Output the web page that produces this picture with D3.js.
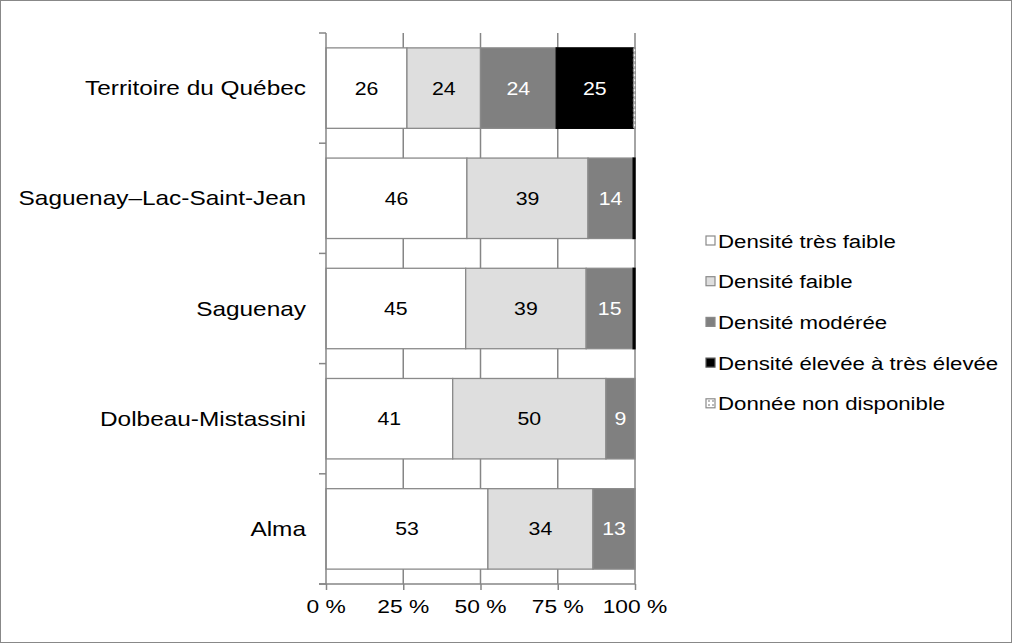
<!DOCTYPE html>
<html>
<head>
<meta charset="utf-8">
<script src="https://cdn.jsdelivr.net/npm/d3@7"></script>
<style>
  body { margin: 0; background: #fff; }
  svg text { font-family: "Liberation Sans", Arial, sans-serif; }
</style>
</head>
<body>
<svg id="chart" width="1012" height="643"></svg>
<script>
// données (%)
const categories = ["Territoire du Québec", "Saguenay–Lac-Saint-Jean", "Saguenay", "Dolbeau-Mistassini", "Alma"];
const seriesNames = ["Densité très faible", "Densité faible", "Densité modérée", "Densité élevée à très élevée", "Donnée non disponible"];
const tresFaible = [26.2, 45.6, 45.2, 41.0, 52.4];
const faible     = [23.8, 39.2, 39.0, 49.6, 34.0];
const moderee    = [24.5, 14.6, 15.2, 9.4, 13.6];
const elevee     = [25.0, 0.6, 0.6, 0, 0];
const nonDispo   = [0.5, 0, 0, 0, 0];
const labels = [
  ["26", "24", "24", "25", ""],
  ["46", "39", "14", "", ""],
  ["45", "39", "15", "", ""],
  ["41", "50", "9", "", ""],
  ["53", "34", "13", "", ""]
];
const xTicks = [0, 25, 50, 75, 100];

const series = [tresFaible, faible, moderee, elevee, nonDispo];
const fills = ["#ffffff", "#dedede", "#808080", "#000000", "url(#hatch)"];
const textCol = ["#000", "#000", "#fff", "#fff", "#000"];

const svg = d3.select("#chart");
const defs = svg.append("defs");
const pat = defs.append("pattern").attr("id", "hatch").attr("patternUnits", "userSpaceOnUse")
  .attr("width", 4).attr("height", 4);
pat.append("rect").attr("width", 4).attr("height", 4).attr("fill", "#fff");
pat.append("rect").attr("width", 2).attr("height", 2).attr("fill", "#bbb");

// texte un peu étiré en largeur, comme dans l'original
function label(g, tx, ty, str, size, sx, anchor, col) {
  return g.append("text")
    .attr("transform", `translate(${tx},${ty}) scale(${sx},1)`)
    .attr("dy", "0.35em").attr("text-anchor", anchor)
    .attr("font-size", size).attr("fill", col)
    .text(str);
}

// cadre extérieur
svg.append("rect").attr("x", 0.5).attr("y", 0.5).attr("width", 1011).attr("height", 642)
  .attr("fill", "none").attr("stroke", "#888");

const x = d3.scaleLinear().domain([0, 100]).range([326, 635]);
const y = d3.scaleBand().domain(categories).range([33, 584]).paddingInner(0.27).paddingOuter(0.135);
const band = d3.scaleBand().domain(categories).range([33, 584]);

// grille verticale
svg.append("g").selectAll("line").data(xTicks.slice(1)).join("line")
  .attr("x1", d => x(d)).attr("x2", d => x(d))
  .attr("y1", 33).attr("y2", 584)
  .attr("stroke", "#868686").attr("stroke-width", 1.5);

// barres empilées
categories.forEach((c, i) => {
  let acc = 0;
  series.forEach((s, j) => {
    const v = s[i];
    if (v <= 0) return;
    const x0 = x(acc), x1 = x(acc + v);
    svg.append("rect")
      .attr("x", x0).attr("y", y(c))
      .attr("width", x1 - x0).attr("height", y.bandwidth())
      .attr("fill", fills[j])
      .attr("stroke", j === 3 ? "#000" : "#8a8a8a")
      .attr("stroke-width", 1.3)
      .attr("stroke-dasharray", j === 4 ? "3,2" : null);
    if (labels[i][j]) {
      label(svg, (x0 + x1) / 2, y(c) + y.bandwidth() / 2, labels[i][j], 18.5, 1.15, "middle", textCol[j]);
    }
    acc += v;
  });
});

// axe vertical (catégories)
const axisCol = "#868686";
svg.append("line").attr("x1", 326).attr("x2", 326).attr("y1", 33).attr("y2", 584)
  .attr("stroke", axisCol).attr("stroke-width", 1.5);
const bounds = categories.map(c => band(c)).concat([584]);
svg.append("g").selectAll("line").data(bounds).join("line")
  .attr("x1", 319).attr("x2", 326).attr("y1", d => d).attr("y2", d => d)
  .attr("stroke", axisCol).attr("stroke-width", 1.5);
const catG = svg.append("g");
categories.forEach(c => label(catG, 306, y(c) + y.bandwidth() / 2, c, 20, 1.22, "end", "#000"));

// axe horizontal
const xAxis = svg.append("g").attr("transform", "translate(0,584)")
  .call(d3.axisBottom(x).tickValues(xTicks).tickSize(6).tickFormat(""));
xAxis.select(".domain").attr("stroke", axisCol).attr("stroke-width", 1.5).attr("d", "M319,0H635");
xAxis.selectAll(".tick line").attr("stroke", axisCol).attr("stroke-width", 1.5);
const tickG = svg.append("g");
xTicks.forEach(t => label(tickG, x(t), 606, t + " %", 19, 1.2, "middle", "#000"));

// légende
const leg = svg.append("g");
seriesNames.forEach((n, j) => {
  const ly = 241 + j * 40.7;
  leg.append("rect").attr("x", 706).attr("y", ly - 5).attr("width", 9).attr("height", 9)
    .attr("fill", fills[j]).attr("stroke", j === 3 ? "#555" : "#8a8a8a").attr("stroke-width", 1.2);
  label(leg, 718, ly, n, 19, 1.17, "start", "#000");
});
</script>
</body>
</html>
